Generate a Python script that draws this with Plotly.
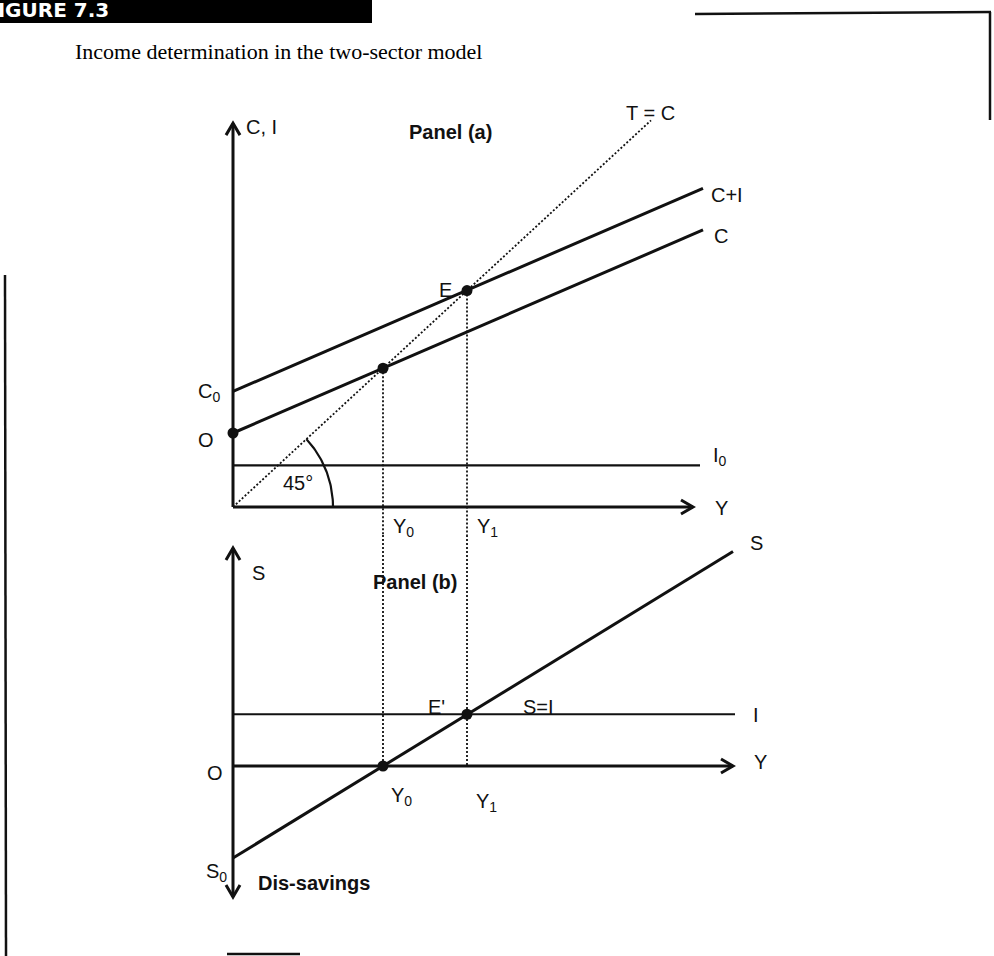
import numpy as np
import plotly.graph_objects as go

# ---------------- values ----------------
# Panel (a): consumption, aggregate demand, investment and the 45-degree line
income_a = [0.0, 47.0]
consumption = [8.0, 29.95]
consumption_plus_inv = [12.5, 34.45]
ray_income = [0.0, 41.8]
ray_level = [0.0, 41.8]
inv_income_a = [0.0, 46.7]
investment_a = [4.5, 4.5]
equilibrium_income = [15.0, 23.4]      # Y0, Y1
equilibrium_level = [15.0, 23.4]       # where C and C+I meet the 45-degree line
autonomous = [8.0, 12.5]               # O and C-intercept of C+I

# Panel (b): saving schedule and investment
income_b = [0.0, 50.0]
saving = [-8.0, 18.65]
inv_income_b = [0.0, 50.2]
investment_b = [4.5, 4.5]
saving_at_eq = [0.0, 4.5]              # S at Y0 and at Y1

# axis extents
axis_a = {"x_end": 46.0, "y_end": 41.5}
axis_b = {"x_end": 50.0, "y_top": 18.96, "y_bottom": -11.4}

# ---------------- page geometry ----------------
W, H = 994, 956
ORIGIN_X, X_SCALE = 233, 10.0          # pixel of Y=0, pixels per unit of Y
A_ORIGIN_Y, A_SCALE = 507, 9.25        # panel (a) vertical scale
B_ORIGIN_Y, B_SCALE = 766, 11.5        # panel (b) vertical scale
SPLIT = 535                            # pixel row separating the panels

x_range = [(0 - ORIGIN_X) / X_SCALE, (W - ORIGIN_X) / X_SCALE]
ya_range = [(A_ORIGIN_Y - SPLIT) / A_SCALE, A_ORIGIN_Y / A_SCALE]
yb_range = [(B_ORIGIN_Y - H) / B_SCALE, (B_ORIGIN_Y - SPLIT) / B_SCALE]
split_paper = 1 - SPLIT / H

INK = "#111111"
SANS = "Liberation Sans, Arial, sans-serif"
SERIF = "Liberation Serif, Times New Roman, serif"


def px(x):
    return x / W


def py(y):
    return 1 - y / H


fig = go.Figure()


def line(xs, ys, panel="a", width=3.0, dash="solid"):
    xa, ya = ("x", "y") if panel == "a" else ("x2", "y2")
    fig.add_trace(go.Scatter(
        x=xs, y=ys, xaxis=xa, yaxis=ya, mode="lines",
        line=dict(color=INK, width=width, dash=dash),
        hoverinfo="skip", showlegend=False, cliponaxis=False))


def dots(xs, ys, panel="a"):
    xa, ya = ("x", "y") if panel == "a" else ("x2", "y2")
    fig.add_trace(go.Scatter(
        x=xs, y=ys, xaxis=xa, yaxis=ya, mode="markers",
        marker=dict(color=INK, size=11),
        hoverinfo="skip", showlegend=False, cliponaxis=False))


def arrowhead(tx, ty, direction, yscale, panel="a", length=12, half=7):
    # open V-shaped head with its tip at (tx, ty)
    lx, hx = length / X_SCALE, half / X_SCALE
    ly, hy = length / yscale, half / yscale
    if direction == "right":
        xs, ys = [tx - lx, tx, tx - lx], [ty + hy, ty, ty - hy]
    elif direction == "up":
        xs, ys = [tx - hx, tx, tx + hx], [ty - ly, ty, ty - ly]
    else:
        xs, ys = [tx - hx, tx, tx + hx], [ty + ly, ty, ty + ly]
    line(xs, ys, panel, width=3.0)


# ---------------- panel (a) ----------------
line([0, 0], [0, axis_a["y_end"]], "a")
line([0, axis_a["x_end"]], [0, 0], "a")
arrowhead(0, axis_a["y_end"], "up", A_SCALE, "a")
arrowhead(axis_a["x_end"], 0, "right", A_SCALE, "a")

line(income_a, consumption_plus_inv, "a")
line(income_a, consumption, "a")
line(inv_income_a, investment_a, "a", width=2.2)
line(ray_income, ray_level, "a", width=1.8, dash="2px,2px")

# 45-degree angle marker
ang = np.linspace(np.arctan2(A_SCALE, X_SCALE), 0, 40)
r_px = 100
line(list(r_px * np.cos(ang) / X_SCALE), list(r_px * np.sin(ang) / A_SCALE), "a", width=2.2)

# dotted drop lines from the equilibria (run through both panels)
for yi, lv in zip(equilibrium_income, equilibrium_level):
    line([yi, yi], [lv, ya_range[0]], "a", width=1.8, dash="2px,2px")
line([equilibrium_income[0]] * 2, [yb_range[1], saving_at_eq[0]], "b", width=1.8, dash="2px,2px")
line([equilibrium_income[1]] * 2, [yb_range[1], 0], "b", width=1.8, dash="2px,2px")

dots([0] + equilibrium_income, [autonomous[0]] + equilibrium_level, "a")

# ---------------- panel (b) ----------------
line([0, 0], [axis_b["y_bottom"], axis_b["y_top"]], "b")
line([0, axis_b["x_end"]], [0, 0], "b")
arrowhead(0, axis_b["y_top"], "up", B_SCALE, "b")
arrowhead(0, axis_b["y_bottom"], "down", B_SCALE, "b")
arrowhead(axis_b["x_end"], 0, "right", B_SCALE, "b")

line(inv_income_b, investment_b, "b", width=2.2)
line(income_b, saving, "b")
dots(equilibrium_income, saving_at_eq, "b")

# ---------------- text ----------------
ann = []


def label(text, x, y, size=20, anchor="left", bold=False, font=SANS, color=INK, yanchor="middle"):
    if bold:
        text = "<b>" + text + "</b>"
    ann.append(dict(
        text=text, x=px(x), y=py(y), xref="paper", yref="paper",
        xanchor=anchor, yanchor=yanchor, showarrow=False,
        font=dict(family=font, size=size, color=color)))


label("Income determination in the two-sector model", 73, 52, size=22, font=SERIF, color="#000000")
label("FIGURE 7.3", 111, 10, size=20, anchor="right", bold=True,
      font="DejaVu Sans, sans-serif", color="white")

label("C, I", 244, 127)
label("Panel (a)", 407, 132, bold=True)
label("T = C", 624, 113)
label("C+I", 709, 195)
label("C", 712, 236)
label("E", 454, 290, anchor="right")
label("C<sub>0</sub>", 196, 392)
label("O", 196, 440)
label("45°", 298, 483, anchor="center")
label("I<sub>0</sub>", 711, 456)
label("Y", 713, 508)
label("Y<sub>0</sub>", 391, 527)
label("Y<sub>1</sub>", 475, 527)

label("S", 250, 573)
label("Panel (b)", 371, 582, bold=True)
label("E'", 426, 707)
label("S=I", 521, 707)
label("I", 751, 715)
label("S", 748, 543)
label("Y", 752, 762)
label("O", 205, 773)
label("Y<sub>0</sub>", 389, 796)
label("Y<sub>1</sub>", 474, 802)
label("S<sub>0</sub>", 204, 872)
label("Dis-savings", 256, 883, bold=True)

# ---------------- page furniture ----------------
shapes = [
    dict(type="rect", xref="paper", yref="paper", x0=px(0), x1=px(372), y0=py(0), y1=py(23),
         fillcolor="black", line=dict(width=0), layer="below"),
    dict(type="line", xref="paper", yref="paper", x0=px(695), y0=py(14), x1=px(991), y1=py(12),
         line=dict(color=INK, width=2.5)),
    dict(type="line", xref="paper", yref="paper", x0=px(990), y0=py(12), x1=px(990), y1=py(120),
         line=dict(color=INK, width=2.5)),
    dict(type="line", xref="paper", yref="paper", x0=px(5), y0=py(275), x1=px(6), y1=py(956),
         line=dict(color=INK, width=2.5)),
    dict(type="line", xref="paper", yref="paper", x0=px(227), y0=py(954), x1=px(300), y1=py(954),
         line=dict(color=INK, width=2.5)),
]

hidden = dict(visible=False, showgrid=False, zeroline=False, fixedrange=True)
fig.update_layout(
    width=W, height=H, autosize=False,
    margin=dict(l=0, r=0, t=0, b=0, pad=0),
    paper_bgcolor="white", plot_bgcolor="rgba(0,0,0,0)",
    xaxis=dict(range=x_range, domain=[0, 1], anchor="y", **hidden),
    yaxis=dict(range=ya_range, domain=[split_paper, 1], anchor="x", **hidden),
    xaxis2=dict(range=x_range, domain=[0, 1], anchor="y2", matches="x", **hidden),
    yaxis2=dict(range=yb_range, domain=[0, split_paper], anchor="x2", **hidden),
    annotations=ann, shapes=shapes, showlegend=False,
)

fig.write_html("out.html")
